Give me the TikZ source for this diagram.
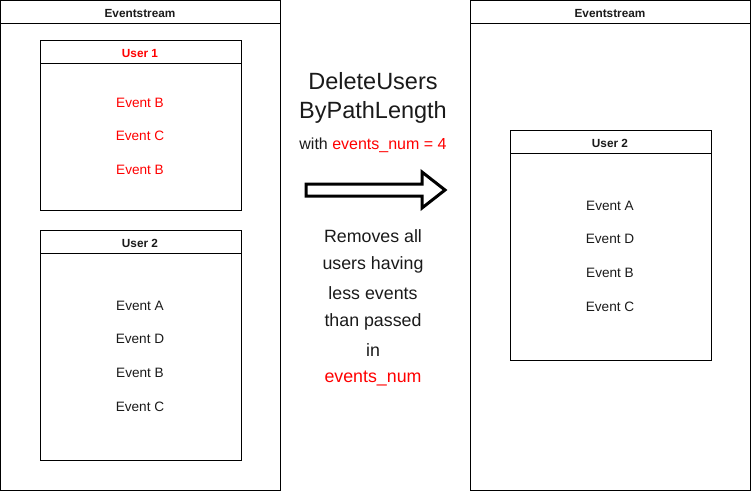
\documentclass[tikz,border=0pt]{standalone}
\usepackage{fontspec}
\setmainfont{Liberation Sans}
\usepackage{tikz}
\usetikzlibrary{positioning}
\definecolor{ink}{HTML}{1A1A1A}
\definecolor{hot}{HTML}{FF0000}

\begin{document}
\begin{tikzpicture}[x=1pt,y=-1pt,line width=1pt,
    head/.style={font=\fontsize{11.8}{13}\selectfont\bfseries,text=ink,yshift=-1pt},
    ev/.style={font=\fontsize{13.6}{15}\selectfont,text=ink,yshift=-1pt},
    big/.style={font=\fontsize{23.5}{26}\selectfont,text=ink},
    note/.style={font=\fontsize{17.8}{20}\selectfont,text=ink}]
  \useasboundingbox (0,0) rectangle (751,491);

  % left stream
  \draw (0.5,0.5) rectangle (280,490);
  \draw (0.5,23) -- (280,23);
  \node[head] (streamL) at (140,12) {Eventstream};

    \draw (40.5,40.5) rectangle (241,210);
    \draw (40.5,63) -- (241,63);
    \node[head,text=hot] (userA) at (140,52) {User 1};
      \node[ev,text=hot] (a1) at (140,102) {Event B};
      \node[ev,text=hot] (a2) at (140,135) {Event C};
      \node[ev,text=hot] (a3) at (140,169) {Event B};

    \draw (40.5,230.5) rectangle (241,460);
    \draw (40.5,253) -- (241,253);
    \node[head] (userB) at (140,242) {User 2};
      \node[ev] (b1) at (140,305) {Event A};
      \node[ev] (b2) at (140,338) {Event D};
      \node[ev] (b3) at (140,372) {Event B};
      \node[ev] (b4) at (140,406) {Event C};

  % middle
  \node[big] (title1) at (373,81) {DeleteUsers};
  \node[big] (title2) at (373,112) {ByPathLength};
  \node[font=\fontsize{16}{18}\selectfont,text=ink] (args) at (373,145) {with \textcolor{hot}{events\_num = 4}};
  \draw[line width=3pt,line join=miter] (306,184) -- (422,184) -- (422,172) -- (445,190)
      -- (422,208) -- (422,196) -- (306,196) -- cycle;
  \node[note] (d1) at (373,236) {Removes all};
  \node[note] (d2) at (373,264.5) {users having};
  \node[note] (d3) at (373,293) {less events};
  \node[note] (d4) at (373,321.5) {than passed};
  \node[note] (d5) at (373,350) {in};
  \node[note,text=hot] (d6) at (373,378.5) {events\_num};

  % right stream
  \draw (470.5,0.5) rectangle (750,490);
  \draw (470.5,23) -- (750,23);
  \node[head] (streamR) at (610,12) {Eventstream};

    \draw (510.5,130.5) rectangle (711,360);
    \draw (510.5,153) -- (711,153);
    \node[head] (userC) at (610,142) {User 2};
      \node[ev] (c1) at (610,205) {Event A};
      \node[ev] (c2) at (610,238) {Event D};
      \node[ev] (c3) at (610,272) {Event B};
      \node[ev] (c4) at (610,306) {Event C};
\end{tikzpicture}
\end{document}
